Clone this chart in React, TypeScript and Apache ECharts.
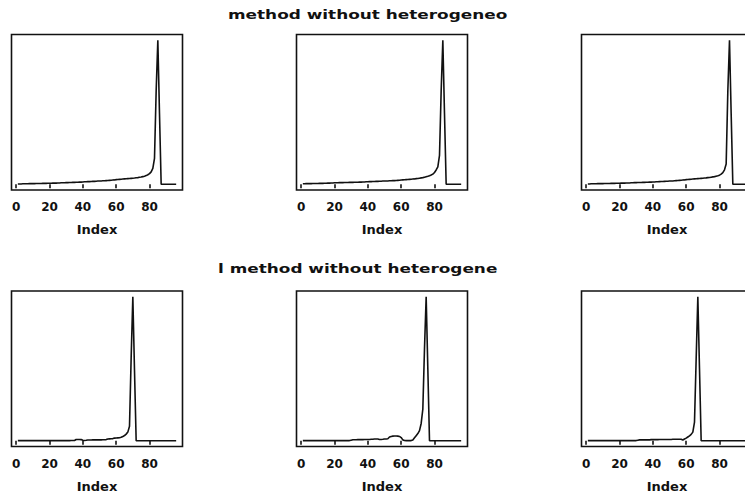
import React, { useEffect, useRef } from "react";
import * as echarts from "echarts";

// Tick labels on every x axis
const xTicks = [0, 20, 40, 60, 80];

// Panel titles (cut off in the original figure)
const topTitle = "method without heterogeneo";
const bottomTitle = "l method without heterogene";
const xName = "Index";

// Series values, index 1..96 (relative scale, peak = 100)
const topLeft = [
  0.2, 0.2, 0.2, 0.3, 0.3, 0.3, 0.3, 0.4, 0.4, 0.4,
  0.4, 0.5, 0.5, 0.5, 0.5, 0.6, 0.6, 0.6, 0.7, 0.7,
  0.7, 0.8, 0.8, 0.8, 0.9, 0.9, 1.0, 1.0, 1.0, 1.1,
  1.1, 1.2, 1.2, 1.3, 1.3, 1.4, 1.4, 1.5, 1.5, 1.6,
  1.7, 1.7, 1.8, 1.8, 1.9, 2.0, 2.0, 2.1, 2.2, 2.2,
  2.3, 2.4, 2.4, 2.5, 2.6, 2.7, 2.8, 2.9, 3.0, 3.2,
  3.3, 3.4, 3.5, 3.6, 3.7, 3.8, 3.9, 4.0, 4.1, 4.2,
  4.3, 4.5, 4.6, 4.8, 5.0, 5.3, 5.6, 6.0, 6.6, 7.4,
  8.6, 11, 18, 65, 100, 49, 0, 0, 0, 0,
  0, 0, 0, 0, 0, 0,
];

const topMiddle = [
  0.3, 0.3, 0.4, 0.4, 0.4, 0.4, 0.5, 0.5, 0.5, 0.5,
  0.6, 0.6, 0.6, 0.7, 0.7, 0.8, 0.8, 0.9, 0.9, 1.0,
  1.0, 1.0, 1.1, 1.1, 1.1, 1.2, 1.2, 1.2, 1.3, 1.3,
  1.3, 1.4, 1.4, 1.4, 1.5, 1.5, 1.6, 1.6, 1.7, 1.7,
  1.8, 1.8, 1.9, 1.9, 2.0, 2.0, 2.1, 2.1, 2.2, 2.2,
  2.3, 2.3, 2.4, 2.4, 2.5, 2.5, 2.6, 2.7, 2.8, 2.9,
  3.0, 3.1, 3.2, 3.3, 3.4, 3.5, 3.6, 3.7, 3.9, 4.0,
  4.2, 4.4, 4.6, 4.9, 5.2, 5.5, 5.9, 6.4, 7.0, 8.2,
  9.9, 12, 20, 65, 100, 49, 0, 0, 0, 0,
  0, 0, 0, 0, 0, 0,
];

const topRight = [
  0.2, 0.2, 0.3, 0.3, 0.3, 0.3, 0.4, 0.4, 0.4, 0.4,
  0.5, 0.5, 0.5, 0.5, 0.6, 0.6, 0.6, 0.7, 0.7, 0.7,
  0.8, 0.8, 0.8, 0.9, 0.9, 0.9, 1.0, 1.0, 1.1, 1.1,
  1.2, 1.2, 1.2, 1.3, 1.3, 1.4, 1.4, 1.5, 1.5, 1.6,
  1.6, 1.7, 1.7, 1.8, 1.9, 1.9, 2.0, 2.1, 2.1, 2.2,
  2.3, 2.3, 2.4, 2.5, 2.6, 2.7, 2.8, 2.9, 3.0, 3.2,
  3.3, 3.4, 3.5, 3.6, 3.7, 3.8, 3.9, 4.0, 4.1, 4.2,
  4.3, 4.4, 4.6, 4.7, 4.9, 5.1, 5.3, 5.6, 5.9, 6.3,
  7.0, 8.0, 10, 14, 65, 100, 49, 0, 0, 0,
  0, 0, 0, 0, 0, 0,
];

const bottomLeft = [
  0.1, 0.1, 0.1, 0.1, 0.1, 0.1, 0.1, 0.1, 0.1, 0.1,
  0.1, 0.1, 0.1, 0.1, 0.1, 0.1, 0.1, 0.1, 0.1, 0.1,
  0.1, 0.1, 0.1, 0.1, 0.1, 0.1, 0.1, 0.1, 0.1, 0.1,
  0.1, 0.1, 0.2, 0.2, 0.2, 0.9, 0.9, 0.9, 0.8, 0.3,
  0.2, 0.3, 0.5, 0.5, 0.5, 0.6, 0.6, 0.6, 0.6, 0.6,
  0.6, 0.7, 0.7, 0.8, 1.2, 1.3, 1.4, 1.5, 1.8, 1.9,
  2.0, 2.1, 2.4, 2.9, 3.6, 4.6, 6.0, 10, 58, 100,
  49, 0, 0, 0, 0, 0, 0, 0, 0, 0,
  0, 0, 0, 0, 0, 0, 0, 0, 0, 0,
  0, 0, 0, 0, 0, 0,
];

const bottomMiddle = [
  0.1, 0.1, 0.1, 0.1, 0.1, 0.1, 0.1, 0.1, 0.1, 0.1,
  0.1, 0.1, 0.1, 0.1, 0.1, 0.1, 0.1, 0.1, 0.1, 0.1,
  0.1, 0.1, 0.1, 0.1, 0.1, 0.1, 0.1, 0.1, 0.1, 0.4,
  0.7, 0.7, 0.7, 0.8, 0.8, 0.8, 0.8, 0.9, 0.9, 0.9,
  0.9, 1.0, 1.0, 1.2, 1.2, 1.2, 0.9, 0.9, 1.0, 1.2,
  1.2, 1.4, 2.6, 3.0, 3.2, 3.3, 3.3, 3.2, 3.0, 2.2,
  0.6, 0.2, 0.1, 0.1, 0.1, 0.1, 0.5, 2.0, 3.5, 5.0,
  7.0, 12, 22, 64, 100, 50, 0, 0, 0, 0,
  0, 0, 0, 0, 0, 0, 0, 0, 0, 0,
  0, 0, 0, 0, 0, 0,
];

const bottomRight = [
  0.1, 0.1, 0.1, 0.1, 0.1, 0.1, 0.1, 0.1, 0.1, 0.1,
  0.1, 0.1, 0.1, 0.1, 0.1, 0.1, 0.1, 0.1, 0.1, 0.1,
  0.1, 0.1, 0.1, 0.1, 0.1, 0.1, 0.1, 0.1, 0.1, 0.1,
  0.4, 0.6, 0.6, 0.6, 0.6, 0.6, 0.6, 0.6, 0.8, 0.8,
  0.8, 0.8, 0.8, 0.9, 0.9, 0.9, 0.9, 0.9, 0.9, 0.9,
  0.9, 1.0, 1.0, 1.0, 1.0, 1.0, 1.0, 0.5, 1.2, 1.8,
  2.6, 3.4, 4.4, 6.0, 13, 57, 100, 50, 0, 0,
  0, 0, 0, 0, 0, 0, 0, 0, 0, 0,
  0, 0, 0, 0, 0, 0, 0, 0, 0, 0,
  0, 0, 0, 0, 0, 0,
];

const panels = [topLeft, topMiddle, topRight, bottomLeft, bottomMiddle, bottomRight];

export default function App() {
  const ref = useRef<HTMLDivElement>(null);

  useEffect(() => {
    if (!ref.current) return;
    const chart = echarts.init(ref.current, null, { renderer: "svg" });

    const W = 745;
    const lefts = [11.5, 296.5, 581.5];
    const tops = [34.5, 291];
    const boxW = 171;
    const boxH = 155.5;

    const grids: any[] = [];
    const xAxes: any[] = [];
    const yAxes: any[] = [];
    const series: any[] = [];

    panels.forEach((vals, k) => {
      const row = Math.floor(k / 3);
      const col = k % 3;
      grids.push({
        left: lefts[col],
        right: W - lefts[col] - boxW,
        top: tops[row],
        height: boxH,
        show: true,
        borderColor: "#111",
        borderWidth: 1.6,
        backgroundColor: "transparent",
        containLabel: false,
        outerBoundsMode: "none",
      });
      xAxes.push({
        type: "value",
        gridIndex: k,
        min: -2.8,
        max: 99.8,
        axisLine: { show: false },
        splitLine: { show: false },
        axisTick: {
          show: true,
          customValues: xTicks,
          length: 4,
          lineStyle: { color: "#111", width: 1.6 },
        },
        axisLabel: {
          show: true,
          customValues: xTicks,
          margin: 11,
          color: "#111",
          fontFamily: "DejaVu Sans",
          fontWeight: "bold",
          fontSize: 12,
        },
        name: xName,
        nameLocation: "middle",
        nameGap: 33,
        nameTextStyle: {
          color: "#111",
          fontFamily: "DejaVu Sans",
          fontWeight: "bold",
          fontSize: 13,
        },
      });
      yAxes.push({
        type: "value",
        gridIndex: k,
        min: -4,
        max: 104,
        show: false,
        splitLine: { show: false },
      });
      series.push({
        type: "line",
        xAxisIndex: k,
        yAxisIndex: k,
        data: vals.map((v, i) => [i + 1, v]),
        symbol: "none",
        lineStyle: { color: "#111", width: 1.6 },
        silent: true,
      });
    });

    chart.setOption({
      animation: false,
      backgroundColor: "#fff",
      grid: grids,
      xAxis: xAxes,
      yAxis: yAxes,
      series,
      graphic: [
        {
          type: "text",
          x: 228,
          y: 14.5,
          scaleX: 1.3,
          style: {
            text: topTitle,
            fill: "#111",
            fontFamily: "DejaVu Sans",
            fontWeight: "bold",
            fontSize: 13,
            align: "left",
            verticalAlign: "middle",
          },
        },
        {
          type: "text",
          x: 218,
          y: 269,
          scaleX: 1.3,
          style: {
            text: bottomTitle,
            fill: "#111",
            fontFamily: "DejaVu Sans",
            fontWeight: "bold",
            fontSize: 13,
            align: "left",
            verticalAlign: "middle",
          },
        },
      ],
    });

    return () => chart.dispose();
  }, []);

  return (
    <div
      ref={ref}
      style={{ position: "fixed", left: 0, top: 0, width: 745, height: 495, background: "#fff" }}
    />
  );
}
